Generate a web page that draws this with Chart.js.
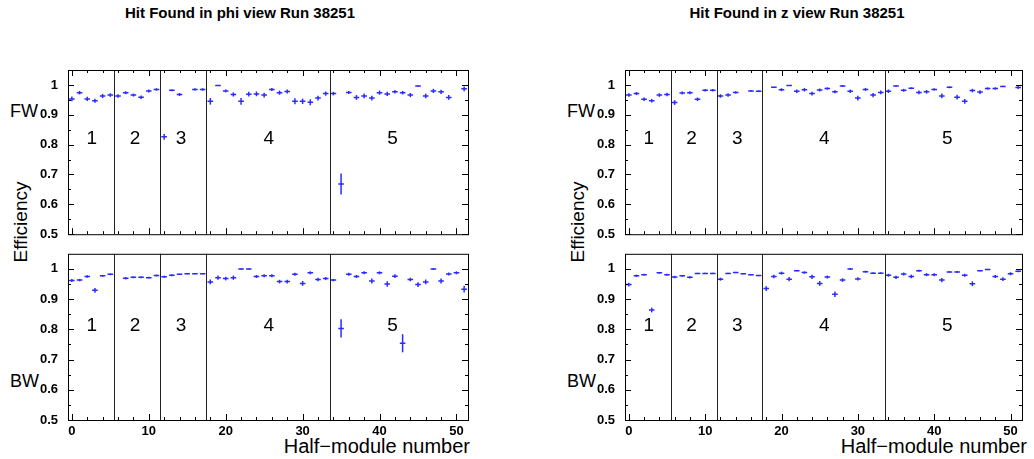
<!DOCTYPE html>
<html>
<head>
<meta charset="utf-8">
<script src="https://cdn.jsdelivr.net/npm/chart.js@4"></script>
<style>
  body { margin: 0; width: 1034px; height: 459px; position: relative; background: #fff; overflow: hidden;
         font-family: "Liberation Sans", Arial, sans-serif; color: #000; }
  canvas { position: absolute; }
  .txt { position: absolute; white-space: nowrap; }
  .title { font-size: 15px; font-weight: bold; top: 4px; width: 400px; text-align: center; }
  .side { font-size: 18px; line-height: 18px; }
  .eff { font-size: 19px; line-height: 19px; transform: translate(-50%, -50%) rotate(-90deg); }
  .xlab { font-size: 20px; line-height: 20px; top: 436px; text-align: right; width: 300px; }
</style>
</head>
<body>

<div class="txt title" style="left:40px">Hit Found in phi view Run 38251</div>
<div class="txt title" style="left:597px">Hit Found in z view Run 38251</div>

<div class="txt side" style="left:10px;top:102px">FW</div>
<div class="txt side" style="left:10px;top:372px">BW</div>
<div class="txt side" style="left:567px;top:102px">FW</div>
<div class="txt side" style="left:567px;top:372px">BW</div>
<div class="txt eff" style="left:20px;top:222px">Efficiency</div>
<div class="txt eff" style="left:577px;top:222px">Efficiency</div>
<div class="txt xlab" style="left:170px">Half−module number</div>
<div class="txt xlab" style="left:727px">Half−module number</div>

<canvas id="phiFW" width="480" height="252" style="left:0;top:0"></canvas>
<canvas id="phiBW" width="480" height="223" style="left:0;top:236px"></canvas>
<canvas id="zFW" width="477" height="252" style="left:557px;top:0"></canvas>
<canvas id="zBW" width="477" height="223" style="left:557px;top:236px"></canvas>

<script>
// efficiency per half-module (index 0..51), null = no entry
const phiFW = [0.953, 0.974, 0.953, 0.947, 0.963, 0.966, 0.963, 0.974, 0.966, 0.959,
               0.980, 0.985, 0.826, 0.982, 0.968, null,  0.985, 0.985, 0.945, 0.998,
               0.980, 0.968, 0.945, 0.969, 0.970, 0.966, 0.985, 0.974, 0.978, 0.945,
               0.945, 0.942, 0.956, 0.971, 0.971, 0.668, 0.975, 0.958, 0.963, 0.956,
               0.974, 0.970, 0.977, 0.974, 0.966, 0.996, 0.963, 0.980, 0.977, 0.958,
               null,  0.987];
const phiFWerr = [0.008, 0.006, 0.007, 0.007, 0.007, 0.006, 0.006, 0.005, 0.005, 0.006,
                  0.005, 0.004, 0.010, 0.003, 0.005, 0,     0.004, 0.004, 0.011, 0.002,
                  0.005, 0.007, 0.011, 0.008, 0.008, 0.008, 0.005, 0.007, 0.007, 0.010,
                  0.009, 0.010, 0.008, 0.007, 0.006, 0.035, 0.005, 0.008, 0.008, 0.008,
                  0.007, 0.007, 0.006, 0.006, 0.007, 0.002, 0.008, 0.007, 0.007, 0.008,
                  0,     0.008];

const phiBW = [0.962, 0.963, 0.975, 0.929, 0.977, 0.982, null,  0.969, 0.972, 0.972,
               0.971, 0.978, 0.974, 0.979, 0.982, 0.984, 0.984, 0.984, 0.957, 0.971,
               0.968, 0.971, 1.000, 1.000, 0.975, 0.977, 0.977, 0.958, 0.958, 0.982,
               0.952, 0.987, 0.965, 0.968, 0.963, 0.803, 0.982, 0.975, 0.987, 0.960,
               0.987, 0.950, 0.976, 0.754, 0.965, 0.948, 0.957, 1.000, 0.960, 0.983,
               0.987, 0.933];
const phiBWerr = [0.005, 0.004, 0.004, 0.008, 0.003, 0.003, 0,     0.004, 0.003, 0.003,
                  0.003, 0.003, 0.003, 0.003, 0.002, 0.002, 0.002, 0.002, 0.008, 0.007,
                  0.006, 0.007, 0.002, 0.002, 0.005, 0.005, 0.005, 0.006, 0.006, 0.005,
                  0.008, 0.005, 0.006, 0.005, 0.004, 0.030, 0.005, 0.005, 0.005, 0.008,
                  0.005, 0.009, 0.006, 0.030, 0.006, 0.008, 0.008, 0.003, 0.008, 0.005,
                  0.005, 0.011];

const zFW = [0.966, 0.971, 0.952, 0.947, 0.966, 0.968, 0.941, 0.973, 0.974, 0.952,
             0.982, 0.982, 0.963, 0.966, 0.975, null,  0.980, 0.979, null,  0.992,
             0.984, 0.998, 0.979, 0.984, 0.971, 0.983, 0.988, 0.977, 0.996, 0.979,
             0.956, 0.985, 0.966, 0.975, 0.979, 0.996, 0.982, 0.989, 0.975, 0.977,
             0.985, 0.963, 0.992, 0.959, 0.945, 0.981, 0.976, 0.988, 0.988, 0.995,
             null,  0.991];
const zFWerr = [0.006, 0.005, 0.006, 0.006, 0.006, 0.006, 0.008, 0.005, 0.005, 0.006,
                0.004, 0.004, 0.006, 0.006, 0.004, 0,     0.003, 0.003, 0,     0.002,
                0.005, 0.002, 0.006, 0.006, 0.006, 0.005, 0.004, 0.005, 0.003, 0.006,
                0.008, 0.005, 0.007, 0.006, 0.006, 0.002, 0.005, 0.003, 0.006, 0.006,
                0.004, 0.008, 0.003, 0.008, 0.008, 0.006, 0.006, 0.004, 0.004, 0.002,
                0,     0.005];

const zBW = [0.948, 0.977, 0.981, 0.864, 0.987, 0.981, 0.973, 0.977, 0.972, 0.985,
             0.985, 0.985, 0.966, 0.985, 0.988, 0.984, 0.981, 0.978, 0.935, 0.975,
             0.986, 0.966, 0.994, 0.988, 0.974, 0.952, 0.973, 0.916, 0.963, 1.000,
             0.967, 0.991, 0.986, 0.986, 0.979, 0.972, 0.983, 0.975, 0.994, 0.981,
             0.981, 0.963, 0.990, 0.990, 0.979, 0.951, 0.994, 0.998, 0.975, 0.966,
             0.984, 0.992];
const zBWerr = [0.006, 0.004, 0.003, 0.008, 0.003, 0.003, 0.004, 0.003, 0.004, 0.002,
                0.002, 0.002, 0.005, 0.002, 0.002, 0.002, 0.002, 0.002, 0.008, 0.006,
                0.005, 0.007, 0.002, 0.004, 0.007, 0.008, 0.005, 0.009, 0.006, 0.003,
                0.005, 0.003, 0.003, 0.003, 0.005, 0.005, 0.005, 0.006, 0.003, 0.005,
                0.005, 0.007, 0.003, 0.003, 0.005, 0.008, 0.002, 0.002, 0.005, 0.006,
                0.005, 0.003];

// axis / layer layout
const xTicks = [0, 10, 20, 30, 40, 50];
const yTicks = [0.5, 0.6, 0.7, 0.8, 0.9, 1.0];
const layerEdges = [5.5, 11.5, 17.5, 33.5];
const layerNames = ['1', '2', '3', '4', '5'];
const layerNameX = [2.6, 8.2, 14.2, 25.6, 41.7];

const BLUE = '#2b2bff';

// ROOT-like frame, inward ticks, layer separators and layer numbers
const framePlugin = {
  id: 'frame',
  afterDatasetsDraw(chart, args, opts) {
    const { ctx, chartArea: a, scales: { x, y } } = chart;
    ctx.save();
    ctx.lineWidth = 1;
    // layer separators
    ctx.strokeStyle = '#222';
    layerEdges.forEach(v => {
      const px = Math.round(x.getPixelForValue(v)) + 0.5;
      ctx.beginPath(); ctx.moveTo(px, a.top); ctx.lineTo(px, a.bottom); ctx.stroke();
    });
    ctx.strokeStyle = '#000';
    ctx.strokeRect(a.left + 0.5, a.top + 0.5, a.right - a.left, a.bottom - a.top);
    // x ticks every 2, major every 10
    for (let v = 0; v <= 50; v += 2) {
      const px = Math.round(x.getPixelForValue(v)) + 0.5;
      const len = v % 10 === 0 ? 6 : 3;
      ctx.beginPath();
      ctx.moveTo(px, a.bottom); ctx.lineTo(px, a.bottom - len);
      if (opts.top) { ctx.moveTo(px, a.top); ctx.lineTo(px, a.top + len); }
      ctx.stroke();
    }
    // y ticks every 0.05, both sides
    for (let k = 0; k <= 10; k++) {
      const v = 0.5 + k * 0.05;
      const py = Math.round(y.getPixelForValue(v)) + 0.5;
      const len = k % 2 === 0 ? 6 : 3;
      ctx.beginPath();
      ctx.moveTo(a.left, py); ctx.lineTo(a.left + len, py);
      ctx.moveTo(a.right, py); ctx.lineTo(a.right - len, py);
      ctx.stroke();
    }
    // layer numbers
    ctx.fillStyle = '#000';
    ctx.font = '19px "Liberation Sans", Arial, sans-serif';
    ctx.textAlign = 'center';
    ctx.textBaseline = 'middle';
    layerNames.forEach((n, i) => {
      ctx.fillText(n, x.getPixelForValue(layerNameX[i]), y.getPixelForValue(opts.labelY));
    });
    ctx.restore();
  }
};

// vertical error bars
const errPlugin = {
  id: 'errbars',
  afterDatasetsDraw(chart, args, opts) {
    const { ctx, scales: { x, y } } = chart;
    ctx.save();
    ctx.strokeStyle = BLUE;
    ctx.lineWidth = 1.5;
    opts.values.forEach((v, i) => {
      if (v == null || !opts.errors[i]) return;
      const px = x.getPixelForValue(i);
      ctx.beginPath();
      ctx.moveTo(px, y.getPixelForValue(v - opts.errors[i]));
      ctx.lineTo(px, y.getPixelForValue(v + opts.errors[i]));
      ctx.stroke();
    });
    ctx.restore();
  }
};

function makePanel(id, values, errors, isTop) {
  const pts = [];
  values.forEach((v, i) => { if (v != null) pts.push({ x: i, y: v }); });
  const xScale = {
    type: 'linear', min: -0.5, max: 51.5,
    display: !isTop,
    grid: { display: false, drawTicks: false },
    border: { display: false },
    afterBuildTicks: s => { s.ticks = xTicks.map(v => ({ value: v })); },
    ticks: {
      padding: 4, color: '#000',
      font: { family: '"Liberation Sans", Arial, sans-serif', size: 13, weight: 'bold' },
      callback: v => String(v)
    }
  };
  if (!isTop) xScale.afterFit = s => { s.height = 39; };

  return new Chart(document.getElementById(id), {
    type: 'scatter',
    data: {
      datasets: [{
        data: pts,
        pointStyle: 'line',
        pointRadius: 2.8,
        pointHoverRadius: 2.8,
        borderColor: BLUE,
        backgroundColor: BLUE,
        pointBorderWidth: 1.5,
        showLine: false
      }]
    },
    options: {
      responsive: false,
      animation: false,
      events: [],
      layout: { padding: isTop ? { top: 70, right: 12, bottom: 9, left: 0 }
                               : { top: 7, right: 12, bottom: 0, left: 0 } },
      plugins: {
        legend: { display: false },
        tooltip: { enabled: false },
        frame: { top: isTop, labelY: isTop ? 0.819 : 0.813 },
        errbars: { values: values, errors: errors }
      },
      scales: {
        x: xScale,
        y: {
          type: 'linear', min: 0.5, max: 1.05,
          grid: { display: false, drawTicks: false },
          border: { display: false },
          afterBuildTicks: s => { s.ticks = yTicks.map(v => ({ value: v })); },
          afterFit: s => { s.width = 68; },
          ticks: {
            padding: 10, color: '#000',
            font: { family: '"Liberation Sans", Arial, sans-serif', size: 13, weight: 'bold' },
            callback: v => String(Math.round(v * 10) / 10)
          }
        }
      }
    },
    plugins: [errPlugin, framePlugin]
  });
}

makePanel('phiFW', phiFW, phiFWerr, true);
makePanel('phiBW', phiBW, phiBWerr, false);
makePanel('zFW', zFW, zFWerr, true);
makePanel('zBW', zBW, zBWerr, false);
</script>
</body>
</html>
